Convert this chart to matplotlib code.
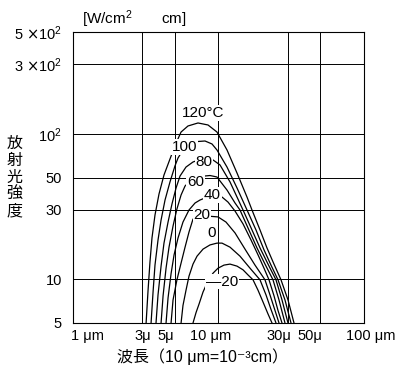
import matplotlib
matplotlib.use("Agg")
import matplotlib.pyplot as plt
from matplotlib.ticker import NullLocator
from matplotlib.transforms import ScaledTranslation

plt.rcParams['font.family'] = ['Liberation Sans', 'Noto Sans CJK JP', 'DejaVu Sans']
plt.rcParams['mathtext.fontset'] = 'custom'
plt.rcParams['mathtext.rm'] = 'Liberation Sans'
plt.rcParams['mathtext.it'] = 'Liberation Sans:italic'
plt.rcParams['mathtext.bf'] = 'Liberation Sans:bold'
plt.rcParams['mathtext.sf'] = 'DejaVu Sans'
plt.rcParams['mathtext.default'] = 'rm'

# axis ticks
x_ticks = [1, 3, 5, 10, 30, 50, 100]
x_labels = ['1 μm', '3μ', '5μ', '10 μm', '30μ', '50μ', '100 μm']
y_ticks = [5, 10, 30, 50, 100, 300, 500]
y_labels = ['5', '10', '30', '50', '10$^2$', '3 $\\mathsf{×}$10$^2$', '5 $\\mathsf{×}$10$^2$']

# curves: wavelength [um] / radiant intensity
wl_120 = [3.18, 3.28, 3.38, 3.49, 3.66, 3.90, 4.22, 4.64, 5.11, 5.53, 6.17, 7.23, 8.47,
          9.76, 11.44, 13.40, 15.70, 16.99, 19.29, 21.54, 24.06, 26.89, 30.04, 33.03]
val_120 = [5.0, 8.4, 13.1, 19.2, 27.6, 38.5, 52.0, 67.0, 86.3, 102.7, 113.0, 118.5, 114.8,
           102.7, 77.3, 53.7, 36.7, 29.9, 21.8, 16.4, 12.7, 9.9, 7.2, 5.0]

wl_100 = [3.44, 3.55, 3.66, 3.84, 4.03, 4.29, 4.64, 5.02, 5.27, 5.70, 6.37, 7.23, 8.08,
          9.02, 9.76, 11.44, 13.40, 15.70, 18.10, 20.55, 22.95, 25.64, 28.64, 31.50]
val_100 = [5.0, 8.17, 12.5, 18.6, 25.5, 35.0, 46.6, 60.0, 68.1, 77.3, 85.0, 88.4, 89.1,
           85.0, 77.3, 59.0, 42.4, 29.9, 21.8, 15.9, 12.5, 9.9, 7.2, 5.0]

wl_80 = [3.72, 3.84, 4.03, 4.22, 4.50, 4.79, 5.11, 5.44, 5.98, 6.68, 7.46, 8.34, 9.17,
         10.24, 12.00, 14.74, 16.99, 19.29, 21.89, 24.84, 27.32, 30.04]
val_80 = [5.0, 7.8, 12.3, 17.7, 24.7, 32.9, 42.4, 51.2, 59.0, 63.9, 66.5, 67.0, 66.0,
          61.0, 46.6, 29.9, 21.8, 16.4, 12.7, 9.9, 7.2, 5.0]

wl_60 = [4.03, 4.16, 4.36, 4.57, 4.87, 5.18, 5.53, 5.89, 6.47, 7.23, 8.08, 8.74, 9.76,
         11.44, 12.99, 14.05, 15.95, 18.39, 20.87, 23.69, 26.05, 28.64]
val_60 = [5.0, 7.7, 11.9, 16.6, 23.2, 30.4, 37.9, 43.7, 48.1, 50.4, 51.2, 51.6, 50.4,
          41.0, 33.4, 29.9, 22.5, 16.4, 12.7, 9.9, 7.2, 5.0]

wl_40 = [4.36, 4.50, 4.72, 4.95, 5.27, 5.70, 6.27, 6.90, 7.46, 8.21, 9.17, 10.57, 11.62,
         12.99, 14.74, 16.73, 18.69, 20.55, 22.24, 24.06, 25.64, 27.32]
val_40 = [5.0, 7.43, 10.9, 14.7, 19.2, 24.7, 29.9, 33.4, 35.0, 36.4, 37.0, 36.7, 33.9,
          29.4, 24.0, 18.6, 14.7, 11.9, 9.9, 7.7, 6.1, 5.0]

wl_20 = [4.72, 4.87, 5.18, 5.53, 5.89, 6.27, 6.68, 7.46, 8.21, 9.02, 9.92, 11.26, 12.99,
         15.21, 17.82, 20.87, 22.59, 24.45, 26.05]
val_20 = [5.0, 7.2, 9.9, 12.9, 16.6, 21.1, 25.9, 27.0, 27.2, 27.0, 26.8, 24.7, 20.8,
          16.1, 12.5, 9.9, 7.8, 6.1, 5.0]

wl_0 = [5.53, 5.70, 5.98, 6.27, 6.68, 7.12, 7.83, 8.74, 9.76, 10.57, 12.00, 14.05, 16.47,
        19.29, 21.21, 22.95, 24.84]
val_0 = [5.0, 6.6, 8.4, 10.5, 12.7, 14.4, 16.1, 17.2, 17.7, 17.7, 16.6, 14.4, 11.9,
         9.9, 7.8, 6.2, 5.0]

wl_m20 = [6.68, 7.01, 7.35, 7.83, 8.47, 9.17, 9.92, 10.91, 12.00, 13.40, 14.74, 15.95,
          17.27, 18.69, 20.23, 21.89, 23.32]
val_m20 = [5.0, 5.9, 6.75, 8.17, 9.72, 11.0, 11.9, 12.5, 12.7, 12.3, 11.6, 10.7,
           9.9, 8.4, 6.97, 5.77, 5.0]

curve_names = ['120°C', '100', '80', '60', '40', '20', '0', '—20']
curves = [(wl_120, val_120), (wl_100, val_100), (wl_80, val_80), (wl_60, val_60),
          (wl_40, val_40), (wl_20, val_20), (wl_0, val_0), (wl_m20, val_m20)]
# where each temperature label sits on the chart
label_pos = [(7.83, 139), (5.84, 81), (7.95, 64), (6.95, 46.6),
             (9.09, 37.9), (7.70, 27.6), (8.95, 20.8), (10.6, 9.6)]

fig = plt.figure(figsize=(4.02, 3.83), dpi=100)
ax = fig.add_axes([73/402, 60/383, 291/402, 291/383])
ax.set_xscale('log')
ax.set_yscale('log')
ax.set_xlim(1, 100)
ax.set_ylim(5, 500)

ax.set_xticks(x_ticks)
ax.set_xticklabels(x_labels)
ax.set_yticks(y_ticks)
ax.set_yticklabels(y_labels)
ax.xaxis.set_minor_locator(NullLocator())
ax.yaxis.set_minor_locator(NullLocator())
ax.tick_params(axis='x', length=0, labelsize=10.5, pad=4)
ax.tick_params(axis='y', length=0, labelsize=10.5, pad=8)
ax.grid(True, color='black', lw=0.7)
for s in ax.spines.values():
    s.set_linewidth(0.8)

# hand-set shifts of the x tick labels (pixels)
x_dx = [-2, 0, -9, -8, -9, -10, 7]
for lab, dx in zip(ax.get_xticklabels(), x_dx):
    lab.set_transform(lab.get_transform() + ScaledTranslation(dx/100, 0, fig.dpi_scale_trans))
ax.get_xticklabels()[0].set_horizontalalignment('left')

for (wl, val) in curves:
    ax.plot(wl, val, color='black', lw=0.9)

for name, (lx, ly) in zip(curve_names, label_pos):
    ax.text(lx, ly, name, ha='center', va='center', fontsize=11, zorder=5,
            bbox=dict(fc='white', ec='none', pad=0.4))

# unit above the axes
fig.text(82/402, 1 - 19/383, '[W/cm$^2$       cm]', fontsize=11, va='center')

# vertical y label, one character per line
for i, ch in enumerate('放射光強度'):
    fig.text(14.5/402, 1 - (143 + 17*i)/383, ch, fontsize=11.5, ha='center', va='center')

fig.text(203/402, 1 - 357/383, '波長（10 μm=10⁻³cm）', fontsize=11.5, ha='center', va='center')

fig.savefig('out.png', dpi=100)
